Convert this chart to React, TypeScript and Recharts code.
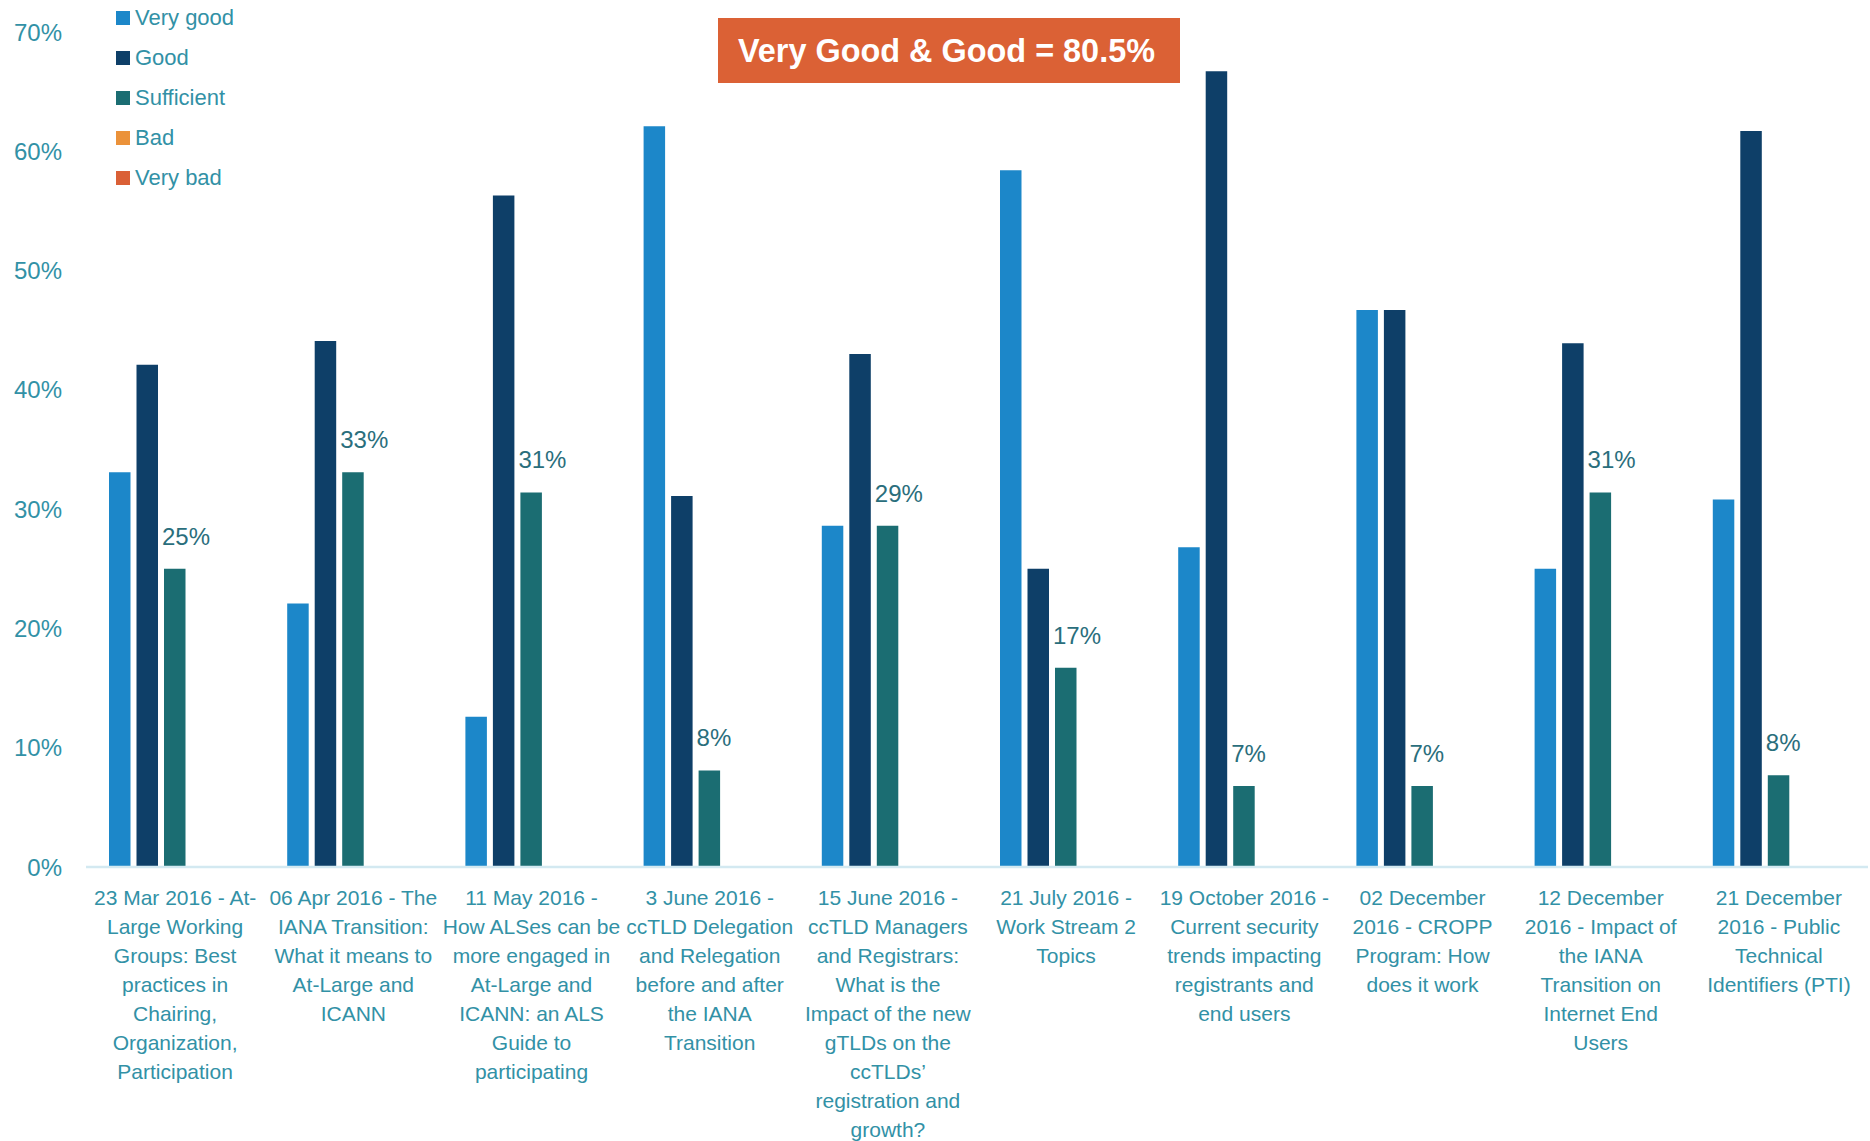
import React from 'react';
import { BarChart, Bar, XAxis, YAxis, Legend, LabelList } from 'recharts';

// session titles, line breaks as in the original chart
const categories = [
  '23 Mar 2016 - At-\nLarge Working\nGroups: Best\npractices in\nChairing,\nOrganization,\nParticipation',
  '06 Apr 2016 - The\nIANA Transition:\nWhat it means to\nAt-Large and\nICANN',
  '11 May 2016 -\nHow ALSes can be\nmore engaged in\nAt-Large and\nICANN: an ALS\nGuide to\nparticipating',
  '3 June 2016 -\nccTLD Delegation\nand Relegation\nbefore and after\nthe IANA\nTransition',
  '15 June 2016 -\nccTLD Managers\nand Registrars:\nWhat is the\nImpact of the new\ngTLDs on the\nccTLDs\u2019\nregistration and\ngrowth?',
  '21 July 2016 -\nWork Stream 2\nTopics',
  '19 October 2016 -\nCurrent security\ntrends impacting\nregistrants and\nend users',
  '02 December\n2016 - CROPP\nProgram: How\ndoes it work',
  '12 December\n2016 - Impact of\nthe IANA\nTransition on\nInternet End\nUsers',
  '21 December\n2016 - Public\nTechnical\nIdentifiers (PTI)',
];

const veryGood = [33.1, 22.1, 12.6, 62.1, 28.6, 58.4, 26.8, 46.7, 25.0, 30.8];
const good = [42.1, 44.1, 56.3, 31.1, 43.0, 25.0, 66.7, 46.7, 43.9, 61.7];
const sufficient = [25.0, 33.1, 31.4, 8.1, 28.6, 16.7, 6.8, 6.8, 31.4, 7.7];
const bad = [0, 0, 0, 0, 0, 0, 0, 0, 0, 0];
const veryBad = [0, 0, 0, 0, 0, 0, 0, 0, 0, 0];

const yTicks = [0, 10, 20, 30, 40, 50, 60, 70];
const summary = 'Very Good & Good = 80.5%';

const TEXT = '#3291a6';
const FONT = '"Liberation Sans", Arial, sans-serif';

const series = [
  { key: 'veryGood', name: 'Very good', color: '#1c87c9' },
  { key: 'good', name: 'Good', color: '#0e3f68' },
  { key: 'sufficient', name: 'Sufficient', color: '#1b6d72' },
  { key: 'bad', name: 'Bad', color: '#eb923a' },
  { key: 'veryBad', name: 'Very bad', color: '#da6036' },
];

const data = categories.map((name, i) => ({
  name,
  veryGood: veryGood[i],
  good: good[i],
  sufficient: sufficient[i],
  bad: bad[i],
  veryBad: veryBad[i],
}));

const CategoryTick = (props: any) => {
  const { x, y, payload } = props;
  const lines = String(payload.value).split('\n');
  return (
    <text x={x} y={y} textAnchor="middle" fill={TEXT} fontSize={21} fontFamily={FONT}>
      {lines.map((l, i) => (
        <tspan key={i} x={x} dy={i === 0 ? 38 : 29}>{l}</tspan>
      ))}
    </text>
  );
};

const PercentLabel = (props: any) => {
  const { x, y, value } = props;
  return (
    <text x={x - 2} y={y - 24} fill="#2a6e7c" fontSize={24} fontFamily={FONT} textAnchor="start">
      {Math.round(value)}%
    </text>
  );
};

const LegendBox = () => (
  <div style={{ fontFamily: FONT, fontSize: 22, color: TEXT }}>
    {series.map((s) => (
      <div key={s.key} style={{ height: 40, display: 'flex', alignItems: 'center' }}>
        <span style={{ width: 14, height: 14, background: s.color, display: 'inline-block', marginRight: 5 }} />
        <span>{s.name}</span>
      </div>
    ))}
  </div>
);

export default function App() {
  return (
    <div style={{ position: 'absolute', left: 0, top: 0, width: 1870, height: 1141, background: '#fff' }}>
      <BarChart
        width={1870}
        height={1141}
        data={data}
        margin={{ top: 32, right: 2, left: 0, bottom: 0 }}
        barSize={21.5}
        barGap={6}
      >
        <XAxis
          dataKey="name"
          interval={0}
          height={274}
          tickLine={false}
          tickSize={0}
          tickMargin={0}
          axisLine={{ stroke: '#d3e9f1', strokeWidth: 2.5 }}
          tick={<CategoryTick />}
        />
        <YAxis
          width={86}
          domain={[0, 70]}
          ticks={yTicks}
          interval={0}
          axisLine={false}
          tickLine={false}
          tickSize={0}
          tickMargin={24}
          tickFormatter={(v: number) => `${v}%`}
          tick={{ fill: TEXT, fontSize: 24, fontFamily: FONT }}
        />
        <Legend
          layout="vertical"
          align="center"
          verticalAlign="middle"
          content={<LegendBox />}
          wrapperStyle={{ left: 116, top: -2.5, width: 200, height: 200 }}
        />
        {series.map((s) => (
          <Bar key={s.key} dataKey={s.key} name={s.name} fill={s.color} isAnimationActive={false}>
            {s.key === 'sufficient' && <LabelList dataKey="sufficient" content={<PercentLabel />} />}
          </Bar>
        ))}
      </BarChart>
      <div
        style={{
          position: 'absolute',
          left: 718,
          top: 18,
          width: 462,
          height: 65,
          background: '#db6135',
        }}
      >
        <svg width={462} height={65}>
          <text
            x={20}
            y={44}
            fill="#ffffff"
            fontFamily={FONT}
            fontWeight="bold"
            fontSize={34}
            textLength={417}
            lengthAdjust="spacingAndGlyphs"
          >
            {summary}
          </text>
        </svg>
      </div>
    </div>
  );
}
